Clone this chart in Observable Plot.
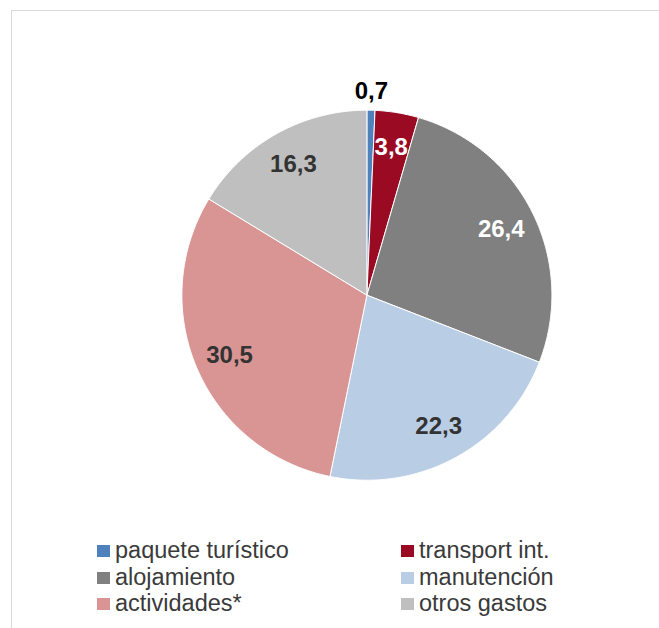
<!DOCTYPE html>
<html>
<head>
<meta charset="utf-8">
<script src="https://cdn.jsdelivr.net/npm/d3@7"></script>
<script src="https://cdn.jsdelivr.net/npm/@observablehq/plot@0.6"></script>
<style>
html,body{margin:0;padding:0;background:#fff;overflow:hidden;width:659px;height:628px;}
body{font-family:"Liberation Sans",Arial,sans-serif;position:relative;}
#frame{position:absolute;left:11px;top:10px;width:700px;height:700px;border:1.5px solid #d9d9d9;box-sizing:border-box;}
#chart{position:absolute;left:0;top:0;}
.item{position:absolute;display:flex;align-items:center;height:26px;font-size:23.5px;color:#3a3a3a;white-space:nowrap;line-height:1;}
.sw{width:13px;height:12px;margin-right:5px;flex:none;}
</style>
</head>
<body>
<div id="frame"></div>
<div id="chart"></div>
<div id="legend"></div>
<script>
const categories = ["paquete turístico", "transport int.", "alojamiento", "manutención", "actividades*", "otros gastos"];
const values = [0.7, 3.8, 26.4, 22.3, 30.5, 16.3];
const valueLabels = ["0,7", "3,8", "26,4", "22,3", "30,5", "16,3"];
const palette = ["#4F81BD", "#9B0A23", "#808080", "#B9CDE5", "#D99594", "#BFBFBF"];
const labelColors = ["#000000", "#ffffff", "#ffffff", "#333333", "#333333", "#333333"];

// Angles from the data (12 o'clock, clockwise)
const arcs = d3.pie().sort(null).value(d => d)(values);

// Slice outlines in unit-circle data space
const pts = [];
arcs.forEach((a, i) => {
  const cat = categories[i];
  pts.push({cat, x: 0, y: 0});
  const n = Math.max(2, Math.ceil((a.endAngle - a.startAngle) / 0.01));
  for (let k = 0; k <= n; k++) {
    const t = a.startAngle + (a.endAngle - a.startAngle) * k / n;
    pts.push({cat, x: Math.sin(t), y: Math.cos(t)});
  }
  pts.push({cat, x: 0, y: 0});
});

// Label anchors
const lbls = arcs.map((a, i) => {
  const m = (a.startAngle + a.endAngle) / 2;
  const r = values[i] < 2 ? 1.10 : 0.81;
  return {x: r * Math.sin(m), y: r * Math.cos(m), text: valueLabels[i], color: labelColors[i]};
});

const cx = 366.4, cy = 294.7, R = 185;
const textMarks = [...new Set(labelColors)].map(c =>
  Plot.text(lbls.filter(d => d.color === c), {
    x: "x", y: "y", text: "text", fill: c,
    fontSize: 24, fontWeight: "bold", fontFamily: "Liberation Sans, Arial, sans-serif"
  })
);

const chart = Plot.plot({
  width: 659,
  height: 500,
  margin: 0,
  style: {background: "transparent"},
  x: {domain: [-1, 1], range: [cx - R, cx + R], axis: null},
  y: {domain: [-1, 1], range: [cy + R, cy - R], axis: null},
  color: {domain: categories, range: palette},
  marks: [
    Plot.line(pts, {x: "x", y: "y", z: "cat", fill: "cat", stroke: "white", strokeWidth: 1, strokeLinejoin: "round", curve: "linear"}),
    ...textMarks
  ]
});
document.getElementById("chart").appendChild(chart);

// Legend (two columns, row-major)
const legend = document.getElementById("legend");
const colX = [97, 401];
const rowY = [551, 577.5, 604];
categories.forEach((c, i) => {
  const item = document.createElement("div");
  item.className = "item";
  item.style.left = colX[i % 2] + "px";
  item.style.top = (rowY[Math.floor(i / 2)] - 13) + "px";
  const sw = document.createElement("span");
  sw.className = "sw";
  sw.style.background = palette[i];
  const tx = document.createElement("span");
  tx.textContent = c;
  item.appendChild(sw);
  item.appendChild(tx);
  legend.appendChild(item);
});
</script>
</body>
</html>
